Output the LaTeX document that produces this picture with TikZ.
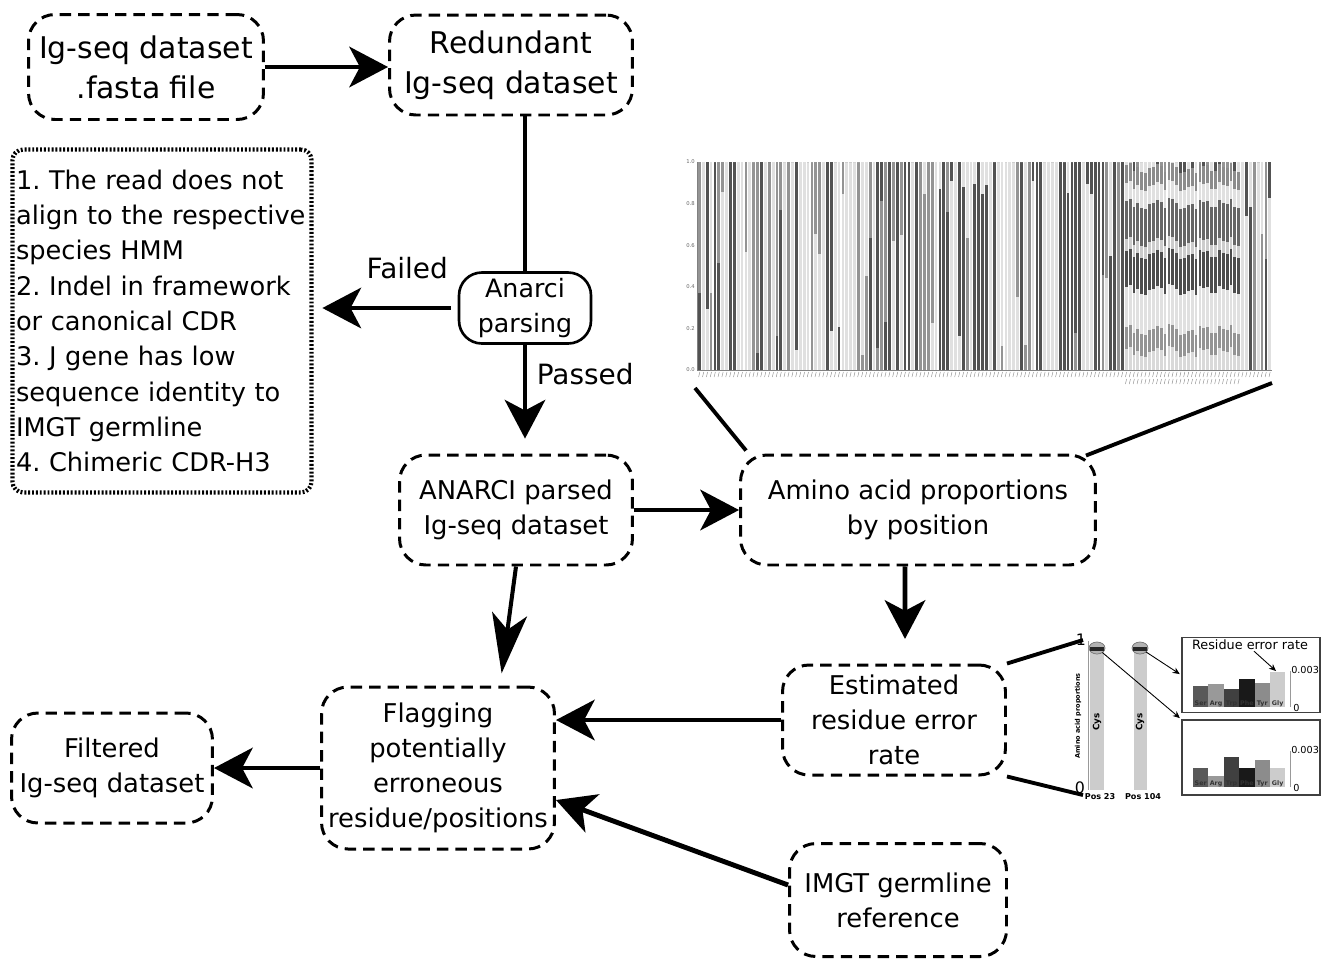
\documentclass[tikz,border=0pt]{standalone}
\usepackage{fontspec}
\setmainfont{DejaVu Sans}
\usetikzlibrary{arrows.meta,positioning,calc}

\begin{document}
\begin{tikzpicture}[x=0.02cm, y=-0.02cm,
    box/.style={draw, line width=1.7pt, dash pattern=on 6.5pt off 4pt, rounded corners=15pt, align=center, font=\fontsize{14.7}{19.8}\selectfont, inner sep=2pt},
    bigbox/.style={box, font=\fontsize{17}{22.7}\selectfont},
    listbox/.style={draw, line width=2.4pt, dash pattern=on 1.1pt off 1.1pt, rounded corners=6pt, align=left, font=\fontsize{14.6}{20.1}\selectfont\frenchspacing, inner sep=2pt},
    parsebox/.style={draw, line width=1.5pt, rounded corners=13pt, align=center, font=\fontsize{14.4}{19.8}\selectfont},
    arr/.style={-{Stealth[length=22pt, width=23pt, inset=6pt]}, line width=2.8pt},
    arrlong/.style={-{Stealth[length=34pt, width=20pt, inset=9pt]}, line width=2.3pt},
    link/.style={line width=2.6pt},
    lead/.style={line width=2.2pt},
    lbl/.style={font=\fontsize{15.9}{18}\selectfont},
    minibox/.style={draw=black!75, line width=0.9pt, minimum width=2.76cm, minimum height=1.5cm, inner sep=0pt},
    tinyb/.style={font=\fontsize{3.6}{4}\selectfont\bfseries, inner sep=0pt},
    axlbl/.style={font=\fontsize{5.5}{6}\selectfont, inner sep=0.5pt, anchor=west},
    thinarr/.style={-{Stealth[length=4pt, width=3.5pt]}, line width=0.5pt}
]
\useasboundingbox (0,0) rectangle (1327,958);

% flow boxes
\node[bigbox, minimum width=4.7cm, minimum height=2.1cm] (fasta) at (146,67) {Ig-seq dataset\\.fasta file};
\node[bigbox, minimum width=4.86cm, minimum height=2cm] (redund) at (511,65) {Redundant\\Ig-seq dataset};
\node[listbox, minimum height=6.86cm, text width=5.84cm] (fails) at (162,321) {1. The read does not\\align to the respective\\species HMM\\2. Indel in framework\\or canonical CDR\\3. J gene has low\\sequence identity to\\IMGT germline\\4. Chimeric CDR-H3};
\node[parsebox, minimum width=2.64cm, minimum height=1.34cm] (anarci) at (525,308) {Anarci\\parsing};
\node[box, minimum width=4.66cm, minimum height=2.2cm] (parsed) at (516,510) {ANARCI parsed\\Ig-seq dataset};
\node[box, minimum width=7.1cm, minimum height=2.2cm] (amino) at (918,510) {Amino acid proportions\\by position};
\node[box, minimum width=4.46cm, minimum height=2.2cm] (error) at (894,720) {Estimated\\residue error\\rate};
\node[box, minimum width=4.66cm, minimum height=3.24cm] (flag) at (438,768) {Flagging\\potentially\\erroneous\\residue/positions};
\node[box, minimum width=4.34cm, minimum height=2.26cm] (imgt) at (898,900) {IMGT germline\\reference};
\node[box, minimum width=4.02cm, minimum height=2.2cm] (filtered) at (112,768) {Filtered\\Ig-seq dataset};

% connectors
\draw[arr] (fasta.east) -- (fasta.east -| redund.west);
\draw[link] (redund.south -| anarci.north) -- (anarci.north);
\draw[arr, shorten <=4pt, shorten >=5pt] (anarci.west) -- (fails.east |- anarci.west)
    node[lbl, pos=0.35, above=12pt] (failed) {Failed};
\draw[arr, shorten >=8.5pt] (anarci.south) -- (parsed.north -| anarci.south)
    node[lbl, pos=0.27, right=2pt] (passed) {Passed};
\draw[arr] (parsed.east) -- (amino.west);
\draw[arr, shorten >=14pt] ([xshift=-0.26cm]amino.south) -- ([xshift=0.22cm]error.north);
\draw[arr] (error.west) -- (flag.east |- error.west);
\draw[arrlong, shorten >=7pt] (parsed.south) -- ([xshift=1.24cm]flag.north);
\draw[arr] ([yshift=0.3cm]imgt.west) -- ([yshift=-0.64cm]flag.east);
\draw[arr] (flag.west) -- (filtered.east);

% proportions chart
\pgfmathsetseed{17}
\foreach \i in {0,...,147}{
  \pgfmathsetmacro\xa{698+3.88*\i}
  \pgfmathsetmacro\s{rnd<0.45 ? 1 : 0.05+0.9*rnd}
  \pgfmathsetmacro\ys{370-208*\s}
  \pgfmathsetmacro\r{rnd}
  \pgfmathtruncatemacro\ca{\r<0.45 ? 12 : (\r<0.8 ? 68 : 42)}
  \pgfmathsetmacro\r{rnd}
  \pgfmathtruncatemacro\cb{\r<0.45 ? 12 : (\r<0.8 ? 68 : 42)}
  \fill[black!\ca] (\xa,370) rectangle ({\xa+2.8},\ys);
  \fill[black!\cb] (\xa,\ys) rectangle ({\xa+2.8},162);
  \draw[black!45, line width=0.25pt] ({\xa+1.8},372) -- ({\xa+0.6},377);
}
\foreach \i in {110,...,139}{
  \pgfmathsetmacro\xa{698+3.88*\i}
  \pgfmathsetmacro\d{12*rnd}
  \foreach \lo/\hi/\c in {0/12/15, 12/34/42, 34/74/12, 74/110/70, 110/122/20, 122/160/60, 160/178/12, 178/196/45}{
    \pgfmathsetmacro\ya{\lo>0 ? 370-\lo-\d : 370}
    \pgfmathsetmacro\yb{370-\hi-\d}
    \fill[black!\c] (\xa,\ya) rectangle ({\xa+2.8},\yb);
  }
  \draw[black!45, line width=0.25pt] ({\xa+1.8},379) -- ({\xa+0.6},384);
}
\draw[black!50, line width=0.3pt] (697,162) -- (697,370) -- (1272,370);
\foreach \v/\t [count=\k] in {0/0.0, 0.2/0.2, 0.4/0.4, 0.6/0.6, 0.8/0.8, 1/1.0}{
  \pgfmathsetmacro\yt{370-208*\v}
  \node[font=\fontsize{3}{3}\selectfont, inner sep=0.5pt, anchor=east, text=black!60] (ytick\k) at (696,\yt) {\t};
}
\coordinate (chartbl) at (695,388);
\coordinate (chartbr) at (1272,383);
\draw[lead] (chartbl) -- ([xshift=0.14cm, yshift=0.06cm]amino.north west);
\draw[lead] (chartbr) -- ([xshift=-0.22cm, yshift=-0.04cm]amino.north east);

% error rate inset
\coordinate (insettop) at (1083,640);
\coordinate (insetbot) at (1083,795);
\draw[lead] (error.north east) -- (insettop);
\draw[lead] (error.south east) -- (insetbot);
\draw[black!40, line width=0.4pt] (1088,641) -- (1088,790);
\node[font=\fontsize{9}{9}\selectfont, inner sep=0pt] (one) at (1081,640) {1};
\node[font=\fontsize{9}{9}\selectfont, inner sep=0pt] (zero) at (1080,788) {0};
\node[rotate=90, font=\fontsize{3.7}{4}\selectfont\bfseries, inner sep=0pt] (propax) at (1078,716) {Amino acid proportions};
\fill[black!20] (1090,645) rectangle (1104,790);
\fill[black!20] (1134,645) rectangle (1147,790);
\coordinate (ellA) at (1097,648);
\coordinate (ellB) at (1140,648);
\foreach \e in {ellA, ellB}{
  \draw[black!55, fill=black!30, line width=0.4pt] (\e) ellipse [x radius=0.16cm, y radius=0.12cm];
  \fill[black!85] ([xshift=-0.14cm, yshift=0.02cm]\e) rectangle ([xshift=0.14cm, yshift=-0.05cm]\e);
}
\node[rotate=90, font=\fontsize{5}{5}\selectfont\bfseries, inner sep=0pt] (cysa) at (1097,722) {Cys};
\node[rotate=90, font=\fontsize{5}{5}\selectfont\bfseries, inner sep=0pt] (cysb) at (1140,722) {Cys};
\node[font=\fontsize{4.6}{5}\selectfont\bfseries, inner sep=0pt] (pos23) at (1100,797) {Pos 23};
\node[font=\fontsize{4.6}{5}\selectfont\bfseries, inner sep=0pt] (pos104) at (1143,797) {Pos 104};

\node[minibox] (errup) at (1251,675) {};
\node[minibox] (errdn) at (1251,757.5) {};
\foreach \n/\h/\c [count=\k from 0] in {Ser/686/65, Arg/684/40, Trp/689/75, Phe/679/90, Tyr/683/45, Gly/672/20}{
  \fill[black!\c] ({1193+15.4*\k},707) rectangle ({1208.4+15.4*\k},\h);
  \node[tinyb, text=black!80] (up\n) at ({1200.7+15.4*\k},703.5) {\n};
}
\foreach \n/\h/\c [count=\k from 0] in {Ser/768/65, Arg/776/40, Trp/757/75, Phe/768/90, Tyr/760/45, Gly/768/20}{
  \fill[black!\c] ({1193+15.4*\k},787) rectangle ({1208.4+15.4*\k},\h);
  \node[tinyb, text=black!80] (dn\n) at ({1200.7+15.4*\k},783.5) {\n};
}
\draw[black!40, line width=0.4pt] (1290,671) -- (1290,707) (1290,751) -- (1290,787);
\node[axlbl] (upmax) at (1290,670) {0.003};
\node[axlbl] (upmin) at (1292,708) {0};
\node[axlbl] (dnmax) at (1290,750) {0.003};
\node[axlbl] (dnmin) at (1292,788) {0};
\node[font=\fontsize{7.3}{8}\selectfont, inner sep=0.5pt] (rerlabel) at (1250,645) {Residue error rate};
\coordinate (glytop) at (1276,671);
\draw[thinarr] ([xshift=0.08cm]rerlabel.south) -- (glytop);
\draw[thinarr, shorten <=4pt, shorten >=1pt] (ellA) -- (errdn.north west);
\draw[thinarr, shorten <=4pt, shorten >=1pt] (ellB) -- (errup.west);
\end{tikzpicture}
\end{document}
